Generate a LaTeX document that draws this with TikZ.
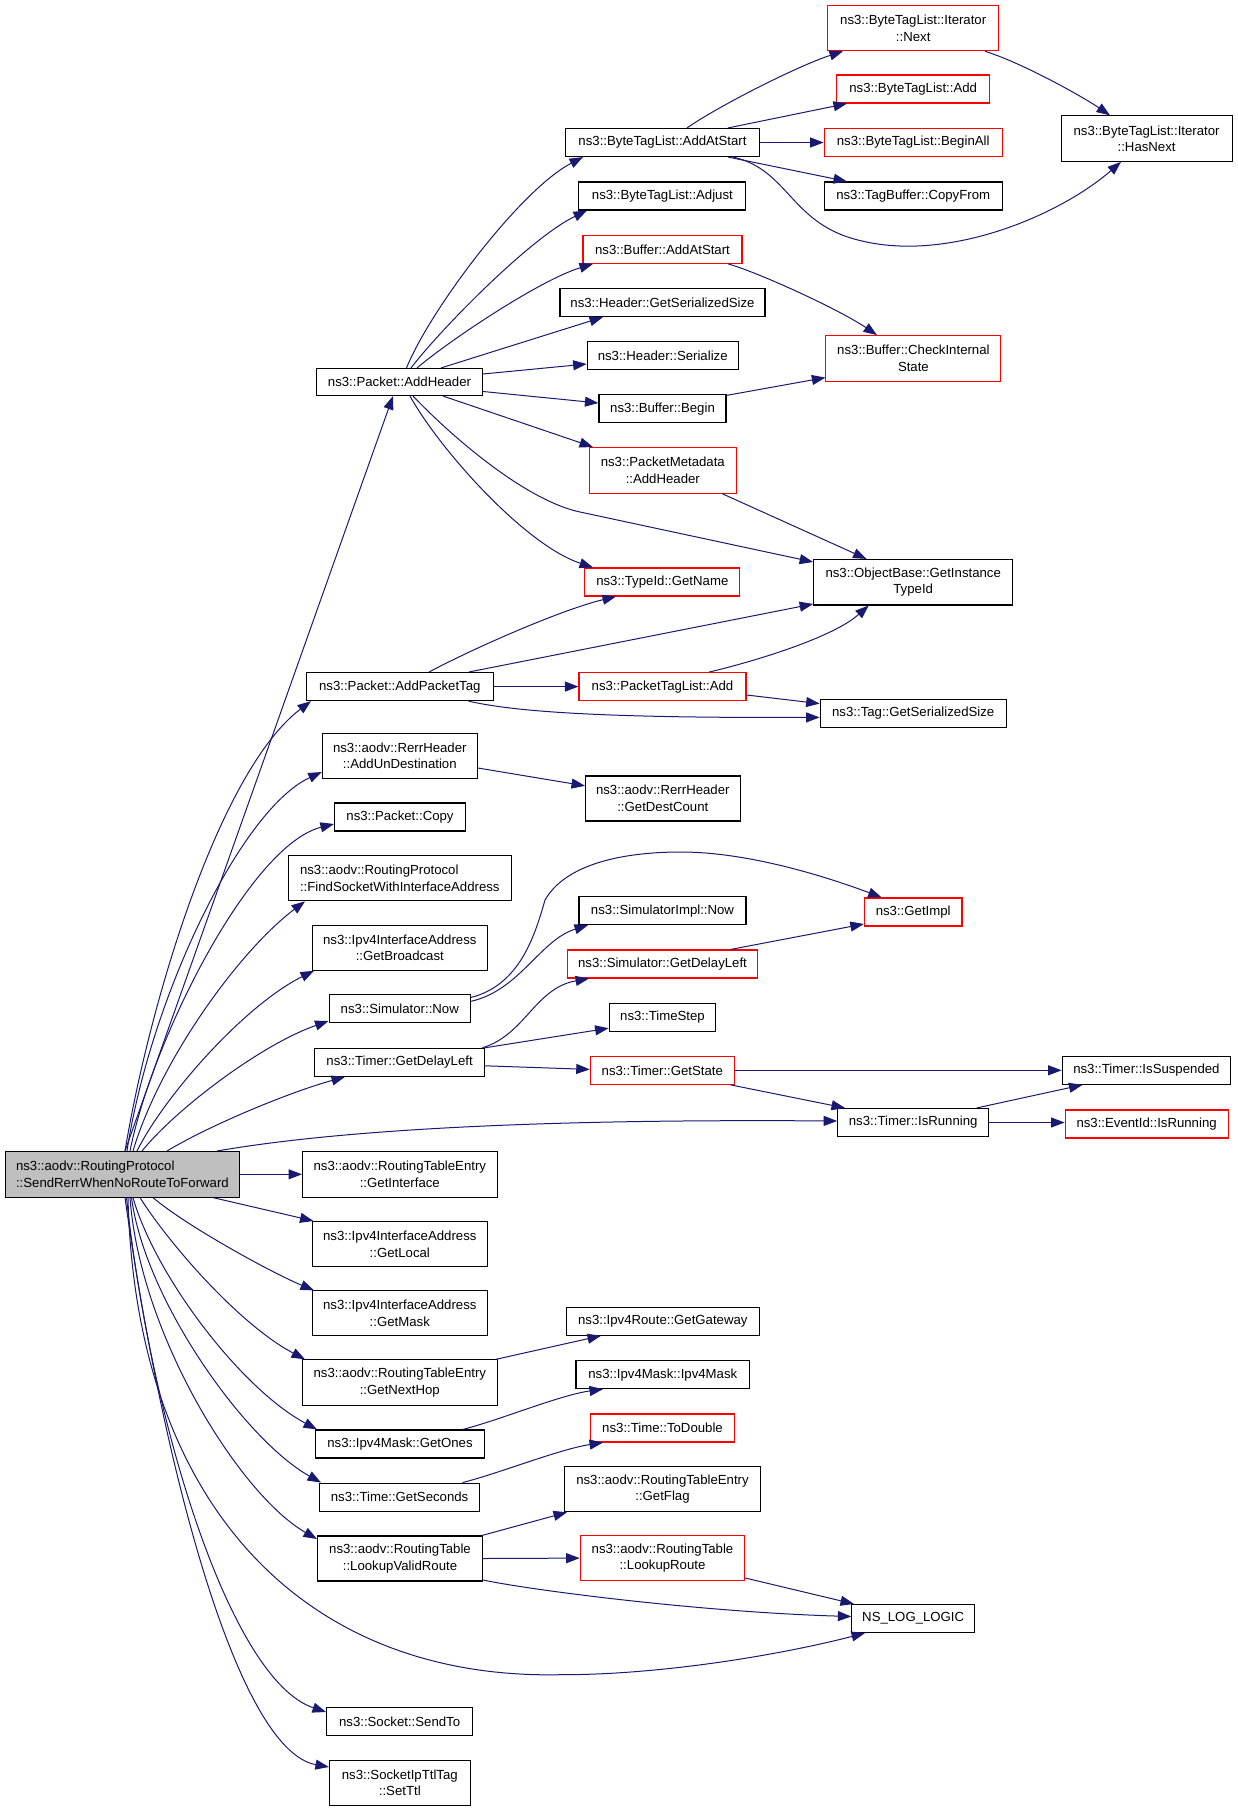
\documentclass[tikz,border=0pt]{standalone}
\usepackage{fontspec}
\setmainfont{Liberation Sans}
\usetikzlibrary{arrows.meta}
\definecolor{edgec}{RGB}{25,25,112}
\definecolor{grayf}{RGB}{191,191,191}
\begin{document}
\begin{tikzpicture}[x=1pt,y=-1pt,
  font=\fontsize{13.2}{16.6}\selectfont,
  box/.style={draw=black,line width=1.1pt,rectangle,inner sep=0pt,align=center,fill=white},
  rbox/.style={box,draw=red},
  gbox/.style={box,fill=grayf},
  e/.style={draw=edgec,line width=1pt,-{Triangle[length=13.5pt,width=10pt]}}]
\useasboundingbox[fill=white] (0,0) rectangle (1237,1811);

% main
\node[gbox,align=left,minimum width=234pt,minimum height=45.5pt] (main) at (122.4,1174.3) {ns3::aodv::RoutingProtocol\\::SendRerrWhenNoRouteToForward};

% column B
\node[box,minimum width=166pt,minimum height=27pt] (ah) at (399.5,382) {ns3::Packet::AddHeader};
\node[box,minimum width=187pt,minimum height=28pt] (apt) at (399.8,686.6) {ns3::Packet::AddPacketTag};
\node[box,minimum width=155pt,minimum height=45pt] (aud) at (399.8,755.8) {ns3::aodv::RerrHeader\\::AddUnDestination};
\node[box,minimum width=131pt,minimum height=28pt] (cp) at (400,817) {ns3::Packet::Copy};
\node[box,align=left,minimum width=223pt,minimum height=45pt] (fs) at (399.8,878.3) {ns3::aodv::RoutingProtocol\\::FindSocketWithInterfaceAddress};
\node[box,minimum width=175pt,minimum height=45pt] (gb) at (399.8,947.7) {ns3::Ipv4InterfaceAddress\\::GetBroadcast};
\node[box,minimum width=141.5pt,minimum height=28pt] (sn) at (399.8,1008.8) {ns3::Simulator::Now};
\node[box,minimum width=170pt,minimum height=28pt] (gdl) at (399.6,1062.3) {ns3::Timer::GetDelayLeft};
\node[box,minimum width=194.5pt,minimum height=45.5pt] (gi) at (399.8,1174.3) {ns3::aodv::RoutingTableEntry\\::GetInterface};
\node[box,minimum width=175pt,minimum height=45pt] (gl) at (399.8,1244) {ns3::Ipv4InterfaceAddress\\::GetLocal};
\node[box,minimum width=175pt,minimum height=45pt] (gm) at (399.8,1313.4) {ns3::Ipv4InterfaceAddress\\::GetMask};
\node[box,minimum width=194.5pt,minimum height=45.5pt] (gnh) at (399.8,1382.6) {ns3::aodv::RoutingTableEntry\\::GetNextHop};
\node[box,minimum width=169pt,minimum height=28pt] (go) at (400,1444) {ns3::Ipv4Mask::GetOnes};
\node[box,minimum width=160pt,minimum height=28pt] (gs) at (399.6,1497.1) {ns3::Time::GetSeconds};
\node[box,minimum width=165pt,minimum height=45pt] (lvr) at (400,1558.5) {ns3::aodv::RoutingTable\\::LookupValidRoute};
\node[box,minimum width=146pt,minimum height=28pt] (st) at (399.6,1721.4) {ns3::Socket::SendTo};
\node[box,minimum width=140.7pt,minimum height=45pt] (ttl) at (399.8,1782.6) {ns3::SocketIpTtlTag\\::SetTtl};

% column C
\node[box,minimum width=194pt,minimum height=28pt] (aas) at (662.5,142.5) {ns3::ByteTagList::AddAtStart};
\node[box,minimum width=167pt,minimum height=28pt] (adj) at (662.4,196) {ns3::ByteTagList::Adjust};
\node[rbox,minimum width=159pt,minimum height=28pt] (baas) at (662.5,249.3) {ns3::Buffer::AddAtStart};
\node[box,minimum width=205pt,minimum height=28pt] (hgs) at (662.5,302.5) {ns3::Header::GetSerializedSize};
\node[box,minimum width=151pt,minimum height=28pt] (hs) at (662.7,355.7) {ns3::Header::Serialize};
\node[box,minimum width=127pt,minimum height=28pt] (bb) at (662.5,408.9) {ns3::Buffer::Begin};
\node[rbox,minimum width=147pt,minimum height=45.5pt] (pma) at (662.8,470.3) {ns3::PacketMetadata\\::AddHeader};
\node[rbox,minimum width=155pt,minimum height=28pt] (tgn) at (662.3,582) {ns3::TypeId::GetName};
\node[rbox,minimum width=167pt,minimum height=28pt] (ptla) at (662.5,686.6) {ns3::PacketTagList::Add};
\node[box,minimum width=154.5pt,minimum height=45pt] (gdc) at (662.8,798.5) {ns3::aodv::RerrHeader\\::GetDestCount};
\node[box,minimum width=167pt,minimum height=28pt] (sin) at (662.5,910.6) {ns3::SimulatorImpl::Now};
\node[rbox,minimum width=190.5pt,minimum height=28pt] (sgdl) at (662.5,964) {ns3::Simulator::GetDelayLeft};
\node[box,minimum width=106.7pt,minimum height=28pt] (ts) at (662.5,1017.4) {ns3::TimeStep};
\node[rbox,minimum width=144pt,minimum height=28pt] (tgs) at (662.3,1070.3) {ns3::Timer::GetState};
\node[box,minimum width=192.6pt,minimum height=28pt] (gw) at (662.8,1321.2) {ns3::Ipv4Route::GetGateway};
\node[box,minimum width=173.6pt,minimum height=28pt] (mm) at (662.8,1374.6) {ns3::Ipv4Mask::Ipv4Mask};
\node[rbox,minimum width=144.7pt,minimum height=28pt] (td) at (662.5,1428) {ns3::Time::ToDouble};
\node[box,minimum width=195.6pt,minimum height=45pt] (gf) at (662.5,1489.2) {ns3::aodv::RoutingTableEntry\\::GetFlag};
\node[rbox,minimum width=164.5pt,minimum height=45pt] (lr) at (662.5,1558.1) {ns3::aodv::RoutingTable\\::LookupRoute};

% column D
\node[rbox,minimum width=171pt,minimum height=45.5pt] (nx) at (913.2,28) {ns3::ByteTagList::Iterator\\::Next};
\node[rbox,minimum width=153pt,minimum height=28pt] (bta) at (913.2,89) {ns3::ByteTagList::Add};
\node[rbox,minimum width=178pt,minimum height=28pt] (ba) at (913.2,142.5) {ns3::ByteTagList::BeginAll};
\node[box,minimum width=178pt,minimum height=28pt] (cf) at (913.2,196) {ns3::TagBuffer::CopyFrom};
\node[rbox,minimum width=175pt,minimum height=45.5pt] (cis) at (913.4,358.4) {ns3::Buffer::CheckInternal\\State};
\node[box,minimum width=199pt,minimum height=45.5pt] (obi) at (913.2,582.2) {ns3::ObjectBase::GetInstance\\TypeId};
\node[box,minimum width=186pt,minimum height=28pt] (tgsz) at (913.2,713.2) {ns3::Tag::GetSerializedSize};
\node[rbox,minimum width=97.6pt,minimum height=28pt] (gimpl) at (913.2,912) {ns3::GetImpl};
\node[box,minimum width=151pt,minimum height=28pt] (ir) at (913.2,1122.5) {ns3::Timer::IsRunning};
\node[box,minimum width=122.6pt,minimum height=28pt] (nll) at (913.2,1618.5) {NS\_LOG\_LOGIC};

% column E
\node[box,minimum width=171pt,minimum height=45.5pt] (hn) at (1146.6,138.6) {ns3::ByteTagList::Iterator\\::HasNext};
\node[box,minimum width=168.4pt,minimum height=28pt] (isus) at (1146.4,1070.3) {ns3::Timer::IsSuspended};
\node[rbox,minimum width=163pt,minimum height=28pt] (eir) at (1146.6,1124) {ns3::EventId::IsRunning};

% edges from main
\draw[e] (main.north -| 125,0) -- (ah.south -| 393,0);
\draw[e] (main.north -| 125,0) .. controls (150,1000) and (220,770) .. (apt.south -| 311,0);
\draw[e] (main.north -| 127,0) .. controls (150,1000) and (240,810) .. (aud.west |- 0,772);
\draw[e] (main.north -| 130,0) .. controls (152,1040) and (250,845) .. (cp.west |- 0,824);
\draw[e] (main.north -| 133,0) .. controls (160,1060) and (240,950) .. (fs.south -| 305,0);
\draw[e] (main.north -| 137,0) .. controls (165,1095) and (245,1005) .. (gb.south -| 314,0);
\draw[e] (main.north -| 142,0) .. controls (175,1110) and (260,1045) .. (sn.west |- 0,1021);
\draw[e] (main.north -| 167,0) .. controls (210,1125) and (290,1092) .. (gdl.south -| 345,0);
\draw[e] (main.north -| 217,0) .. controls (350,1128) and (560,1119) .. (ir.west |- 0,1121);
\draw[e] (main.east) -- (gi.west);
\draw[e] (main.south -| 213,0) -- (gl.north -| 313.5,0);
\draw[e] (main.south -| 153,0) .. controls (185,1225) and (270,1272) .. (gm.north -| 314,0);
\draw[e] (main.south -| 140,0) .. controls (170,1245) and (240,1325) .. (gnh.north -| 305,0);
\draw[e] (main.south -| 133,0) .. controls (155,1275) and (240,1388) .. (go.north -| 317,0);
\draw[e] (main.south -| 131.5,0) .. controls (145,1300) and (245,1440) .. (gs.north -| 321,0);
\draw[e] (main.south -| 130,0) .. controls (140,1335) and (240,1495) .. (lvr.west |- 0,1539);
\draw[e] (main.south -| 128,0) .. controls (135,1500) and (300,1680) .. (560,1674.7) .. controls (660,1675) and (780,1655) .. (nll.south -| 865,0);
\draw[e] (main.south -| 126.5,0) .. controls (150,1420) and (230,1680) .. (st.west |- 0,1712);
\draw[e] (main.south -| 125,0) .. controls (160,1450) and (235,1750) .. (ttl.west |- 0,1767);

% edges from AddHeader
\draw[e] (ah.north -| 406.5,0) .. controls (430,310) and (520,190) .. (aas.south -| 583,0);
\draw[e] (ah.north -| 411,0) .. controls (440,330) and (530,238) .. (adj.south -| 587,0);
\draw[e] (ah.north -| 417,0) .. controls (450,340) and (540,280) .. (baas.south -| 593,0);
\draw[e] (ah.north -| 441,0) -- (hgs.south -| 603,0);
\draw[e] (ah.east |- 0,374) -- (hs.west |- 0,364);
\draw[e] (ah.east |- 0,391.5) -- (bb.west |- 0,403);
\draw[e] (ah.south -| 443,0) -- (pma.north -| 593,0);
\draw[e] (ah.south -| 413,0) .. controls (460,445) and (530,501.5) .. (580,512) -- (obi.west |- 0,562);
\draw[e] (ah.south -| 410,0) .. controls (440,450) and (525,545) .. (tgn.north -| 593,0);

% edges from ByteTagList::AddAtStart
\draw[e] (aas.north -| 687,0) .. controls (720,105) and (800,65) .. (nx.south -| 843,0);
\draw[e] (aas.north -| 728,0) -- (bta.south -| 847,0);
\draw[e] (aas.east) -- (ba.west);
\draw[e] (aas.south -| 728,0) -- (cf.north -| 847,0);
\draw[e] (aas.south -| 733,0) .. controls (790,170) and (790,225) .. (862,241) .. controls (950,262) and (1060,215) .. (hn.south -| 1121,0);
\draw[e] (nx.south -| 985,0) .. controls (1020,62) and (1080,95) .. (hn.north -| 1110,0);
\draw[e] (baas.south -| 728,0) .. controls (760,273) and (840,310) .. (cis.north -| 877,0);
\draw[e] (bb.east |- 0,395.4) -- (cis.west |- 0,377.6);
\draw[e] (pma.south -| 722,0) -- (obi.north -| 866.6,0);

% edges from AddPacketTag
\draw[e] (apt.north -| 429,0) .. controls (470,650) and (560,610) .. (tgn.south -| 616,0);
\draw[e] (apt.north -| 468.6,0) -- (obi.west |- 0,604);
\draw[e] (apt.east) -- (ptla.west);
\draw[e] (apt.south -| 468.6,0) .. controls (520,713) and (620,718) .. (tgsz.west |- 0,717.4);
\draw[e] (ptla.north -| 709,0) .. controls (740,665) and (830,640) .. (obi.south -| 868.7,0);
\draw[e] (ptla.east |- 0,695) -- (tgsz.west |- 0,703.6);
\draw[e] (aud.east |- 0,768) -- (gdc.west |- 0,785.8);

% Simulator / Timer
\draw[e] (sn.east |- 0,997.4) .. controls (520,985) and (535,935) .. (545,900) .. controls (565,865) and (620,852) .. (681,852) .. controls (750,852) and (830,878) .. (gimpl.north -| 881.7,0);
\draw[e] (sn.east |- 0,1001.3) .. controls (520,990) and (540,940) .. (sin.south -| 588,0);
\draw[e] (sgdl.north -| 730.5,0) -- (gimpl.west |- 0,924);
\draw[e] (gdl.north -| 482.4,0) .. controls (525,1035) and (535,988) .. (sgdl.south -| 589,0);
\draw[e] (gdl.north east) -- (ts.west |- 0,1028.2);
\draw[e] (gdl.east |- 0,1065.8) -- (tgs.west |- 0,1069.4);
\draw[e] (tgs.east) -- (isus.west);
\draw[e] (tgs.south -| 730.5,0) -- (ir.north -| 845,0);
\draw[e] (ir.north -| 976.7,0) -- (isus.south -| 1082.5,0);
\draw[e] (ir.east) -- (eir.west |- ir.east);

% lower part
\draw[e] (gnh.north -| 496,0) -- (gw.south -| 601,0);
\draw[e] (go.north -| 462.6,0) .. controls (500,1420) and (560,1395) .. (mm.south -| 603,0);
\draw[e] (gs.north -| 462.6,0) .. controls (500,1473) and (560,1449) .. (td.south -| 603,0);
\draw[e] (lvr.north -| 482,0) -- (gf.south -| 567,0);
\draw[e] (lvr.east) -- (lr.west);
\draw[e] (lvr.east |- 0,1580) .. controls (530,1590) and (700,1612) .. (nll.west |- 0,1616.5);
\draw[e] (lr.east |- 0,1578) -- (nll.north -| 854,0);
\end{tikzpicture}
\end{document}
